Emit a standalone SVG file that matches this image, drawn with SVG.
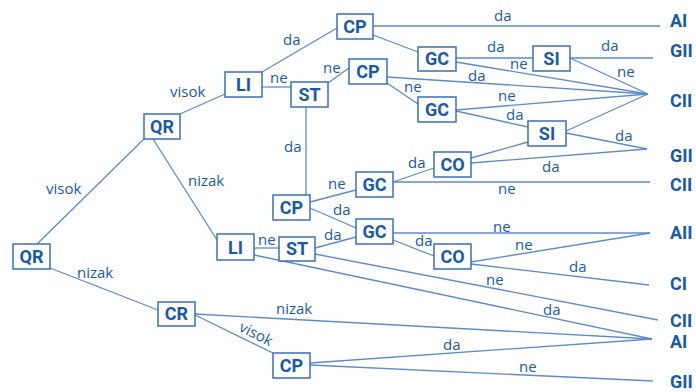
<svg xmlns="http://www.w3.org/2000/svg" width="696" height="392" viewBox="0 0 696 392">
<style>
.box{fill:#fff;stroke:#3a70b8;stroke-width:1.5}
.nt{font-family:Roboto,"Liberation Sans",sans-serif;font-weight:bold;font-size:18px;fill:#1b5aa5;text-anchor:middle}
.el{font-family:"Open Sans","Liberation Sans",sans-serif;font-size:15px;fill:#1b5aa5}
.end{font-family:Roboto,"Liberation Sans",sans-serif;font-weight:bold;font-size:18px;fill:#1b5aa5}
#edges line{stroke:#5d8bcb;stroke-width:1.3}
</style>
<rect width="696" height="392" fill="#fff"/>
<g id="edges">
<line x1="37" y1="244" x2="144" y2="139"/>
<line x1="50" y1="268" x2="158" y2="310"/>
<line x1="180" y1="114" x2="225" y2="94"/>
<line x1="153" y1="139" x2="217" y2="240"/>
<line x1="262" y1="72" x2="337" y2="28"/>
<line x1="262" y1="87" x2="291" y2="87"/>
<line x1="328" y1="83" x2="349" y2="68"/>
<line x1="306" y1="107" x2="306" y2="195"/>
<line x1="373" y1="26" x2="660" y2="26"/>
<line x1="373" y1="35" x2="418" y2="52"/>
<line x1="456" y1="58" x2="533" y2="58"/>
<line x1="456" y1="62" x2="648" y2="94"/>
<line x1="570" y1="58" x2="653" y2="58"/>
<line x1="570" y1="58" x2="648" y2="94"/>
<line x1="387" y1="77" x2="648" y2="94"/>
<line x1="387" y1="83" x2="418" y2="104"/>
<line x1="456" y1="110" x2="648" y2="94"/>
<line x1="456" y1="111" x2="528" y2="127"/>
<line x1="566" y1="131" x2="648" y2="94"/>
<line x1="566" y1="133" x2="647" y2="149"/>
<line x1="471" y1="158" x2="528" y2="142"/>
<line x1="471" y1="163" x2="647" y2="149"/>
<line x1="393" y1="182" x2="434" y2="168"/>
<line x1="393" y1="182" x2="650" y2="182"/>
<line x1="310" y1="202" x2="356" y2="190"/>
<line x1="310" y1="208" x2="356" y2="228"/>
<line x1="254" y1="248" x2="279" y2="248"/>
<line x1="315" y1="248" x2="356" y2="237"/>
<line x1="393" y1="233" x2="650" y2="233"/>
<line x1="393" y1="240" x2="434" y2="256"/>
<line x1="471" y1="262" x2="650" y2="233"/>
<line x1="471" y1="264" x2="649" y2="285"/>
<line x1="315" y1="254" x2="658" y2="320"/>
<line x1="254" y1="255" x2="652" y2="339"/>
<line x1="195" y1="314" x2="652" y2="339"/>
<line x1="195" y1="315" x2="273" y2="353"/>
<line x1="310" y1="363" x2="652" y2="339"/>
<line x1="310" y1="365" x2="653" y2="381"/>
</g>
<g id="edge-labels">
<text class="el" x="46" y="194">visok</text>
<text class="el" x="77" y="278">nizak</text>
<text class="el" x="170" y="97">visok</text>
<text class="el" x="188" y="186">nizak</text>
<text class="el" x="283" y="45">da</text>
<text class="el" x="270" y="83">ne</text>
<text class="el" x="323" y="73">ne</text>
<text class="el" x="284" y="152">da</text>
<text class="el" x="494" y="21">da</text>
<text class="el" x="487" y="52">da</text>
<text class="el" x="510" y="69">ne</text>
<text class="el" x="601" y="51">da</text>
<text class="el" x="617" y="77">ne</text>
<text class="el" x="468" y="81">da</text>
<text class="el" x="404" y="92">ne</text>
<text class="el" x="498" y="101">ne</text>
<text class="el" x="506" y="120">da</text>
<text class="el" x="615" y="141">da</text>
<text class="el" x="542" y="172">da</text>
<text class="el" x="408" y="168">da</text>
<text class="el" x="498" y="194">ne</text>
<text class="el" x="328" y="189">ne</text>
<text class="el" x="333" y="215">da</text>
<text class="el" x="258" y="245">ne</text>
<text class="el" x="324" y="240">da</text>
<text class="el" x="493" y="232">ne</text>
<text class="el" x="415" y="246">da</text>
<text class="el" x="515" y="250">ne</text>
<text class="el" x="569" y="272">da</text>
<text class="el" x="486" y="285">ne</text>
<text class="el" x="543" y="315">da</text>
<text class="el" x="276" y="314">nizak</text>
<text class="el" x="256" y="339" text-anchor="middle" transform="rotate(27 256 334)">visok</text>
<text class="el" x="443" y="350">da</text>
<text class="el" x="519" y="372">ne</text>
</g>
<g id="QR1"><rect class="box" x="13" y="244" width="37" height="25"/><text class="nt" x="31.5" y="263">QR</text></g>
<g id="QR2"><rect class="box" x="144" y="114" width="36" height="25"/><text class="nt" x="162" y="133">QR</text></g>
<g id="LI1"><rect class="box" x="225" y="72" width="37" height="25"/><text class="nt" x="243.5" y="91">LI</text></g>
<g id="LI2"><rect class="box" x="217" y="234" width="37" height="26"/><text class="nt" x="235.5" y="254">LI</text></g>
<g id="ST1"><rect class="box" x="291" y="82" width="37" height="25"/><text class="nt" x="309.5" y="101">ST</text></g>
<g id="ST2"><rect class="box" x="279" y="237" width="36" height="24"/><text class="nt" x="297" y="255">ST</text></g>
<g id="CR"><rect class="box" x="158" y="302" width="37" height="24"/><text class="nt" x="176.5" y="320">CR</text></g>
<g id="CP1"><rect class="box" x="337" y="14" width="36" height="25"/><text class="nt" x="355" y="33">CP</text></g>
<g id="CP2"><rect class="box" x="349" y="59" width="38" height="25"/><text class="nt" x="368" y="78">CP</text></g>
<g id="CP3"><rect class="box" x="273" y="195" width="37" height="25"/><text class="nt" x="291.5" y="214">CP</text></g>
<g id="CP4"><rect class="box" x="273" y="353" width="37" height="25"/><text class="nt" x="291.5" y="372">CP</text></g>
<g id="GC1"><rect class="box" x="418" y="47" width="38" height="24"/><text class="nt" x="437" y="65">GC</text></g>
<g id="GC2"><rect class="box" x="418" y="97" width="38" height="25"/><text class="nt" x="437" y="116">GC</text></g>
<g id="GC3"><rect class="box" x="356" y="172" width="37" height="25"/><text class="nt" x="374.5" y="191">GC</text></g>
<g id="GC4"><rect class="box" x="356" y="219" width="37" height="25"/><text class="nt" x="374.5" y="238">GC</text></g>
<g id="SI1"><rect class="box" x="533" y="46" width="37" height="25"/><text class="nt" x="551.5" y="65">SI</text></g>
<g id="SI2"><rect class="box" x="528" y="121" width="38" height="25"/><text class="nt" x="547" y="140">SI</text></g>
<g id="CO1"><rect class="box" x="434" y="152" width="37" height="25"/><text class="nt" x="452.5" y="171">CO</text></g>
<g id="CO2"><rect class="box" x="434" y="244" width="37" height="25"/><text class="nt" x="452.5" y="263">CO</text></g>
<g id="outcomes">
<text class="end" x="670" y="27">AI</text>
<text class="end" x="670" y="57">GII</text>
<text class="end" x="670" y="107">CII</text>
<text class="end" x="670" y="162">GII</text>
<text class="end" x="670" y="191">CII</text>
<text class="end" x="670" y="239">AII</text>
<text class="end" x="670" y="290">CI</text>
<text class="end" x="670" y="327">CII</text>
<text class="end" x="670" y="348">AI</text>
<text class="end" x="670" y="388">GII</text>
</g>
</svg>
